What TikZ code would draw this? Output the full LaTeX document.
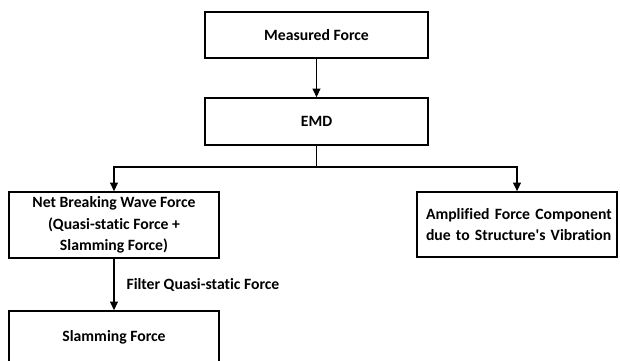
\documentclass[tikz,border=0pt]{standalone}
\usepackage{fontspec}
\setmainfont{Carlito}[Ligatures={NoCommon}]
\usetikzlibrary{arrows.meta}
\begin{document}
\begin{tikzpicture}[x=1pt,y=-1pt,
  box/.style={draw=black, line width=1.8pt, fill=white, align=center, inner sep=0pt,
    font=\fontsize{15.7}{21.8}\selectfont\bfseries},
  arr/.style={line width=1.1pt, -{Triangle[width=8pt,length=8.5pt]}},
  conn/.style={line width=1.1pt},
  lbl/.style={font=\fontsize{15.7}{16}\selectfont\bfseries, inner sep=0pt}]
\useasboundingbox (0,0) rectangle (620,360);
\node[box, minimum width=223pt, minimum height=46pt] (mf) at (316.5,35) {Measured Force};
\node[box, minimum width=223pt, minimum height=47pt] (emd) at (316.5,121.5) {EMD};
\node[box, minimum width=210pt, minimum height=66pt] (net) at (114,225)
  {Net Breaking Wave Force\\(Quasi-static Force +\\Slamming Force)};
\node[box, minimum width=200pt, minimum height=65pt, align=left, text width=192pt] (amp) at (517,224.5)
  {\hspace*{5pt}Amplified Force Component\\\hspace*{5pt}due to Structure\textquotesingle s Vibration};
\node[box, minimum width=210pt, minimum height=52pt] (slam) at (114,337) {Slamming Force};
\coordinate (j) at (316.5,167);
\draw[arr] (mf) -- (emd);
\draw[conn] (emd.south) -- (j);
\draw[arr] (j) -| (net.north);
\draw[arr] (j) -| (amp.north);
\draw[arr] (net) -- node[lbl, right=12pt] {Filter Quasi-static Force} (slam);
\end{tikzpicture}
\end{document}
